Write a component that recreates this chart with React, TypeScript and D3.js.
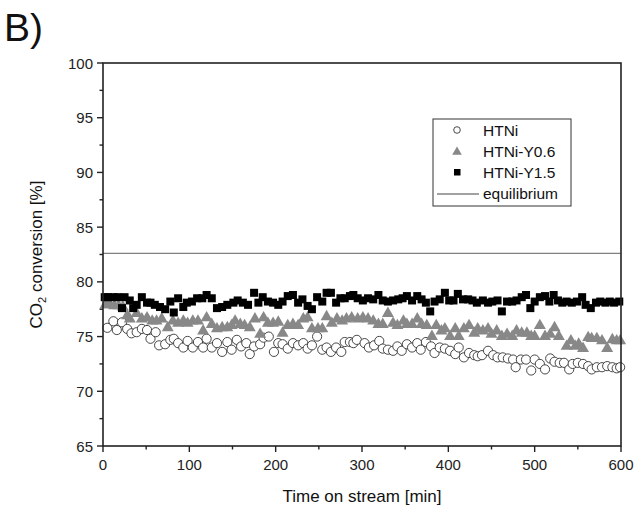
import React from "react";
import * as d3 from "d3";

const xTicks = [0, 100, 200, 300, 400, 500, 600];
const yTicks = [65, 70, 75, 80, 85, 90, 95, 100];
const equilibrium = 82.6;

const htniT = [5,12,16,22,28,33,39,45,51,55,61,65,72,78,82,87,93,98,104,110,116,120,126,132,138,144,149,155,160,166,170,175,182,186,192,198,203,208,214,220,226,232,237,242,248,254,259,264,270,276,280,286,290,294,303,308,314,320,324,330,336,341,346,352,358,364,368,374,380,384,390,396,402,408,412,418,424,430,434,439,446,452,457,463,469,475,478,484,490,496,500,506,512,518,523,529,534,540,544,550,556,562,566,572,578,584,590,595,599];
const htniV = [75.8,76.4,75.6,76.3,75.7,75.3,75.4,75.7,75.6,74.8,75.4,74.2,74.3,74.7,74.8,74.4,74.0,74.6,74.0,74.5,74.0,74.8,74.0,74.4,73.6,74.5,73.8,74.7,74.1,74.4,73.4,74.1,74.3,74.9,75.0,73.6,74.4,74.3,73.9,74.4,74.2,74.4,73.9,74.2,75.0,73.8,74.0,73.6,74.0,73.6,74.5,74.5,74.4,74.7,74.4,74.0,74.2,74.6,73.9,73.8,73.7,74.1,73.7,74.3,74.0,74.4,73.8,74.5,74.1,73.5,74.0,73.9,73.7,73.4,74.0,73.1,73.5,73.3,73.2,73.3,73.7,73.3,73.1,73.1,73.0,72.9,72.2,72.9,72.9,71.9,72.9,72.5,72.0,73.0,72.7,72.6,72.6,72.0,72.5,72.6,72.5,72.3,72.0,72.2,72.2,72.3,72.2,72.1,72.2];

const y06T = [3,8,13,18,23,28,31,39,45,51,57,62,68,75,81,87,93,98,104,110,116,120,126,132,138,144,149,153,159,164,170,176,182,186,191,197,203,208,214,220,226,232,237,242,249,254,259,265,271,277,282,288,295,301,307,313,319,324,330,336,341,348,352,358,364,369,375,381,386,392,396,402,408,412,418,424,430,434,440,446,450,456,462,468,474,479,485,491,496,500,506,512,518,523,528,537,542,547,551,556,562,566,572,578,584,590,595,599];
const y06V = [78.0,78.0,77.9,77.9,77.8,77.0,76.7,77.2,76.7,76.8,76.5,76.5,76.7,75.9,76.5,76.3,76.5,76.3,76.5,76.5,75.6,76.8,76.2,75.8,75.9,75.9,76.1,76.5,76.2,76.1,75.9,76.7,75.3,76.8,76.3,76.3,76.4,75.4,76.1,76.2,76.1,76.7,76.8,75.8,75.8,75.8,76.9,76.3,76.7,76.5,76.7,76.8,76.7,76.8,76.7,76.5,76.2,76.2,77.2,76.3,76.1,76.5,76.2,76.2,76.7,76.2,76.1,75.1,76.1,75.6,75.8,75.1,75.8,75.1,75.8,76.1,75.4,75.8,75.6,75.8,75.3,75.6,75.1,75.3,75.1,75.6,75.4,75.4,75.1,75.1,76.1,75.1,75.3,75.9,75.1,74.2,74.7,74.2,74.4,74.0,75.0,74.9,74.9,74.7,74.0,74.8,74.7,74.7];

const y15T = [2,6,12,17,22,25,31,35,39,45,51,55,60,66,72,78,82,87,93,97,103,109,115,120,126,132,138,144,151,156,162,168,175,180,185,191,197,203,208,214,220,226,231,237,242,248,254,259,264,270,275,280,286,290,295,301,307,313,319,324,330,336,342,347,352,358,364,369,374,379,384,390,396,401,406,411,417,423,428,433,440,446,451,457,462,468,474,479,485,490,495,500,506,512,517,522,527,532,537,543,549,555,559,565,571,576,582,587,592,598];
const y15V = [78.6,78.6,78.6,78.6,77.6,78.6,78.3,77.6,77.9,78.6,78.1,78.1,77.9,77.7,77.5,78.2,77.2,78.5,77.7,78.1,78.2,78.5,78.5,78.8,78.5,77.6,77.7,77.9,78.1,78.3,78.1,77.9,79.0,78.1,78.6,78.2,78.1,77.9,78.2,78.7,78.8,78.1,78.4,77.8,77.5,78.6,78.2,79.0,79.0,78.1,78.5,78.5,78.7,78.8,78.5,78.3,78.5,78.4,78.8,78.3,78.2,78.3,78.4,78.5,78.7,78.3,78.7,78.4,78.1,77.3,78.2,78.4,79.0,78.3,78.3,78.9,78.4,78.4,78.3,78.1,78.3,78.1,78.2,78.3,77.3,78.2,78.2,78.3,78.6,78.8,77.6,78.2,78.6,78.7,78.2,78.8,78.3,78.1,78.2,78.1,78.2,78.6,77.9,77.6,78.1,78.2,78.1,78.2,78.1,78.2];

const legendLabels = ["HTNi", "HTNi-Y0.6", "HTNi-Y1.5", "equilibrium"];

const W = 638, H = 510;
const L = 103, R = 621, T = 63, B = 446;
const FONT = "Liberation Sans, Arial, sans-serif";

export default function App() {
  const x = d3.scaleLinear().domain([0, 600]).range([L, R]);
  const y = d3.scaleLinear().domain([65, 100]).range([B, T]);
  const xMinor = d3.range(50, 600, 100);
  const yMinor = d3.range(67.5, 100, 5);
  const tri = d3.symbol().type(d3.symbolTriangle).size(62)()!;
  const gray = "#888888";

  return (
    <svg width={W} height={H} style={{ position: "absolute", left: 0, top: 0 }} fontFamily={FONT}>
      <rect width={W} height={H} fill="#fff" />
      <text x={4} y={41} fontSize={39} fill="#111">B)</text>

      {/* equilibrium */}
      <line x1={x(0)} x2={x(600)} y1={y(equilibrium)} y2={y(equilibrium)} stroke="#808080" strokeWidth={1.3} />

      {/* HTNi circles */}
      {htniT.map((t, i) => (
        <circle key={"c" + i} cx={x(t)} cy={y(htniV[i])} r={4.6} fill="#fff" stroke="#333" strokeWidth={0.9} />
      ))}
      {/* Y0.6 triangles */}
      {y06T.map((t, i) => (
        <path key={"t" + i} d={tri} transform={`translate(${x(t)},${y(y06V[i]) + 1})`} fill={gray} />
      ))}
      {/* Y1.5 squares */}
      {y15T.map((t, i) => (
        <rect key={"s" + i} x={x(t) - 4} y={y(y15V[i]) - 4} width={8} height={8} fill="#000" />
      ))}

      {/* frame */}
      <rect x={L} y={T} width={R - L} height={B - T} fill="none" stroke="#222" strokeWidth={1.6} />

      {/* x ticks */}
      {xTicks.map((t) => (
        <g key={"xt" + t}>
          <line x1={x(t)} x2={x(t)} y1={B} y2={B + 6} stroke="#222" strokeWidth={1.4} />
          <text x={x(t)} y={B + 24} fontSize={15} textAnchor="middle" fill="#222">{t}</text>
        </g>
      ))}
      {xMinor.map((t) => (
        <line key={"xm" + t} x1={x(t)} x2={x(t)} y1={B} y2={B + 3.5} stroke="#222" strokeWidth={1.4} />
      ))}
      {/* y ticks */}
      {yTicks.map((v) => (
        <g key={"yt" + v}>
          <line x1={L - 6} x2={L} y1={y(v)} y2={y(v)} stroke="#222" strokeWidth={1.4} />
          <text x={L - 10} y={y(v) + 5.5} fontSize={15} textAnchor="end" fill="#222">{v}</text>
        </g>
      ))}
      {yMinor.map((v) => (
        <line key={"ym" + v} x1={L - 3.5} x2={L} y1={y(v)} y2={y(v)} stroke="#222" strokeWidth={1.4} />
      ))}

      {/* axis titles */}
      <text x={(L + R) / 2} y={B + 56} fontSize={17} textAnchor="middle" fill="#111">Time on stream [min]</text>
      <text transform={`translate(42,${(T + B) / 2}) rotate(-90)`} fontSize={17} textAnchor="middle" fill="#111">
        CO<tspan fontSize={11} dy={4}>2</tspan><tspan dy={-4}> conversion [%]</tspan>
      </text>

      {/* legend */}
      <rect x={433} y={119} width={138} height={87} fill="#fff" stroke="#333" strokeWidth={1} />
      <circle cx={457} cy={130} r={3.3} fill="#fff" stroke="#333" strokeWidth={0.9} />
      <path d={d3.symbol().type(d3.symbolTriangle).size(40)()!} transform="translate(457,152)" fill={gray} />
      <rect x={454} y={169} width={6.5} height={6.5} fill="#000" />
      <line x1={437} x2={479} y1={194} y2={194} stroke="#444" strokeWidth={1} />
      {legendLabels.map((s, i) => (
        <text key={s} x={483} y={136 + i * 21} fontSize={15.5} fill="#111">{s}</text>
      ))}
    </svg>
  );
}
